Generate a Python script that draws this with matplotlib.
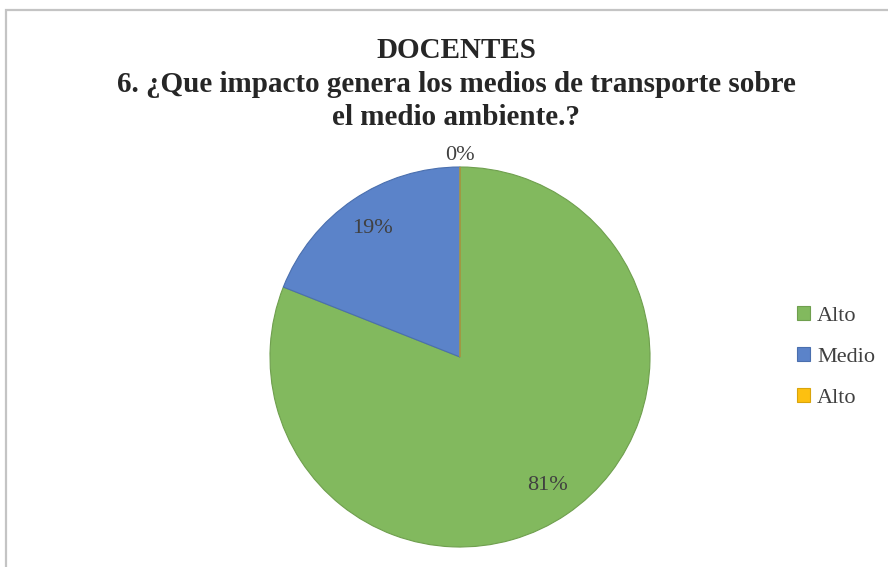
import numpy as np
import matplotlib.pyplot as plt
from matplotlib.patches import Rectangle

# data
categories = ['Alto', 'Medio', 'Alto']
values = [81, 19, 0]
colors = ['#82b95e', '#5b83c9', '#fdc010']
edges = ['#6f9f4e', '#4a6fae', '#d9a40c']

fig = plt.figure(figsize=(8.88, 5.67), dpi=100)
W, H = 888, 567

# chart frame
fig.add_artist(Rectangle((6 / W, -0.05), 1.0, 1 - 10 / H + 0.05, transform=fig.transFigure,
                         fill=False, edgecolor='#c4c4c4', linewidth=1.6))

# pie axes: center (460, 357) px, radius 190 px
cx, cy, r = 460, 357, 190
ax = fig.add_axes([(cx - r) / W, (H - cy - r) / H, 2 * r / W, 2 * r / H])
wedges, _ = ax.pie(values, colors=colors, startangle=90, counterclock=False,
                   radius=1.0, wedgeprops=dict(linewidth=0.8))
for w, ec in zip(wedges, edges):
    w.set_edgecolor(ec)
ax.set_xlim(-1, 1)
ax.set_ylim(-1, 1)

# percentage labels
total = sum(values)
start = 90.0
for v in values:
    ang = start - v / total * 180.0
    start -= v / total * 360.0
    d = 0.82 if v > 0 else 1.06
    ax.text(d * np.cos(np.radians(ang)), d * np.sin(np.radians(ang)), f'{v}%',
            ha='center', va='center', fontsize=16, family='Liberation Serif',
            color='#404040')

# title
title_lines = ['DOCENTES',
               '6. ¿Que impacto genera los medios de transporte sobre',
               'el medio ambiente.?']
for i, t in enumerate(title_lines):
    fig.text(456 / W, 1 - (58 + i * 33.5) / H, t, ha='center', va='baseline',
             fontsize=21, fontweight='bold', family='Liberation Serif', color='#262626')

# legend
leg = fig.legend(wedges, categories, loc='center left', bbox_to_anchor=(786 / W, 1 - 357 / H),
                 frameon=False, borderpad=0, handlelength=0.6, handleheight=0.6,
                 handletextpad=0.3, labelspacing=0.95,
                 prop={'family': 'Liberation Serif', 'size': 16})
for t in leg.get_texts():
    t.set_color('#404040')

fig.savefig('out.png', dpi=100)
